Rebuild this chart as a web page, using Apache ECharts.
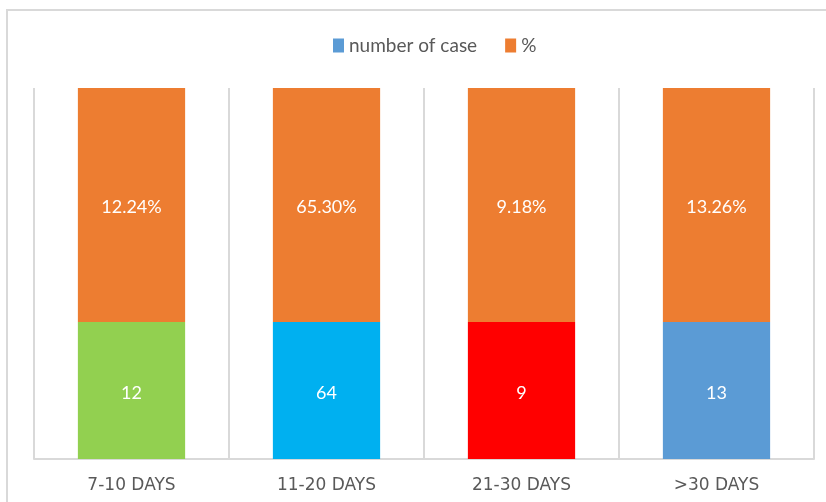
<!DOCTYPE html>
<html>
<head>
<meta charset="utf-8">
<script src="https://cdn.jsdelivr.net/npm/echarts@6/dist/echarts.min.js"></script>
<style>
  html, body { margin: 0; padding: 0; background: #fff; }
  #chart { width: 826px; height: 502px; }
</style>
</head>
<body>
<div id="chart"></div>
<script>
  // categories and values
  var categories = ['7-10 DAYS', '11-20 DAYS', '21-30 DAYS', '>30 DAYS'];
  var caseCount = [12, 64, 9, 13];
  var percentText = ['12.24%', '65.30%', '9.18%', '13.26%'];
  // drawn segment heights (share of the stacked column, %)
  var caseShare = [36.9, 36.9, 36.9, 36.9];
  var percentShare = [63.1, 63.1, 63.1, 63.1];
  var caseColors = ['#92d050', '#00b0f0', '#ff0000', '#5b9bd5'];

  var chart = echarts.init(document.getElementById('chart'));

  chart.setOption({
    animation: false,
    textStyle: { fontFamily: 'Lato, "DejaVu Sans", sans-serif' },
    graphic: [{
      type: 'rect',
      shape: { x: 7, y: 10, width: 840, height: 520 },
      style: { fill: 'none', stroke: '#d9d9d9', lineWidth: 2 },
      silent: true
    }],
    legend: {
      data: ['number of case', '%'],
      top: 31,
      left: 328,
      icon: 'rect',
      itemWidth: 11,
      itemHeight: 14,
      itemGap: 28,
      itemTextGap: 6,
      textStyle: { color: '#595959', fontSize: 19 }
    },
    grid: { left: 34, right: 12, top: 88, bottom: 43 },
    xAxis: {
      type: 'category',
      data: categories,
      axisLine: { lineStyle: { color: '#d9d9d9', width: 2 } },
      axisTick: { show: false },
      splitLine: { show: true, lineStyle: { color: '#d9d9d9', width: 2 } },
      axisLabel: { color: '#595959', fontSize: 17, margin: 18, fontFamily: '"DejaVu Sans", sans-serif' }
    },
    yAxis: {
      type: 'value',
      min: 0,
      max: 100,
      show: false
    },
    series: [{
      name: 'number of case',
      type: 'bar',
      stack: 'total',
      barWidth: '55%',
      color: '#5b9bd5',
      data: caseShare.map(function (v, i) {
        return { value: v, itemStyle: { color: caseColors[i] } };
      }),
      label: {
        show: true,
        color: '#fff',
        fontSize: 18,
        offset: [0, 3],
        formatter: function (p) { return caseCount[p.dataIndex]; }
      }
    }, {
      name: '%',
      type: 'bar',
      stack: 'total',
      barWidth: '55%',
      color: '#ed7d31',
      data: percentShare,
      label: {
        show: true,
        color: '#fff',
        fontSize: 18,
        offset: [0, 2],
        formatter: function (p) { return percentText[p.dataIndex]; }
      }
    }]
  });
</script>
</body>
</html>
